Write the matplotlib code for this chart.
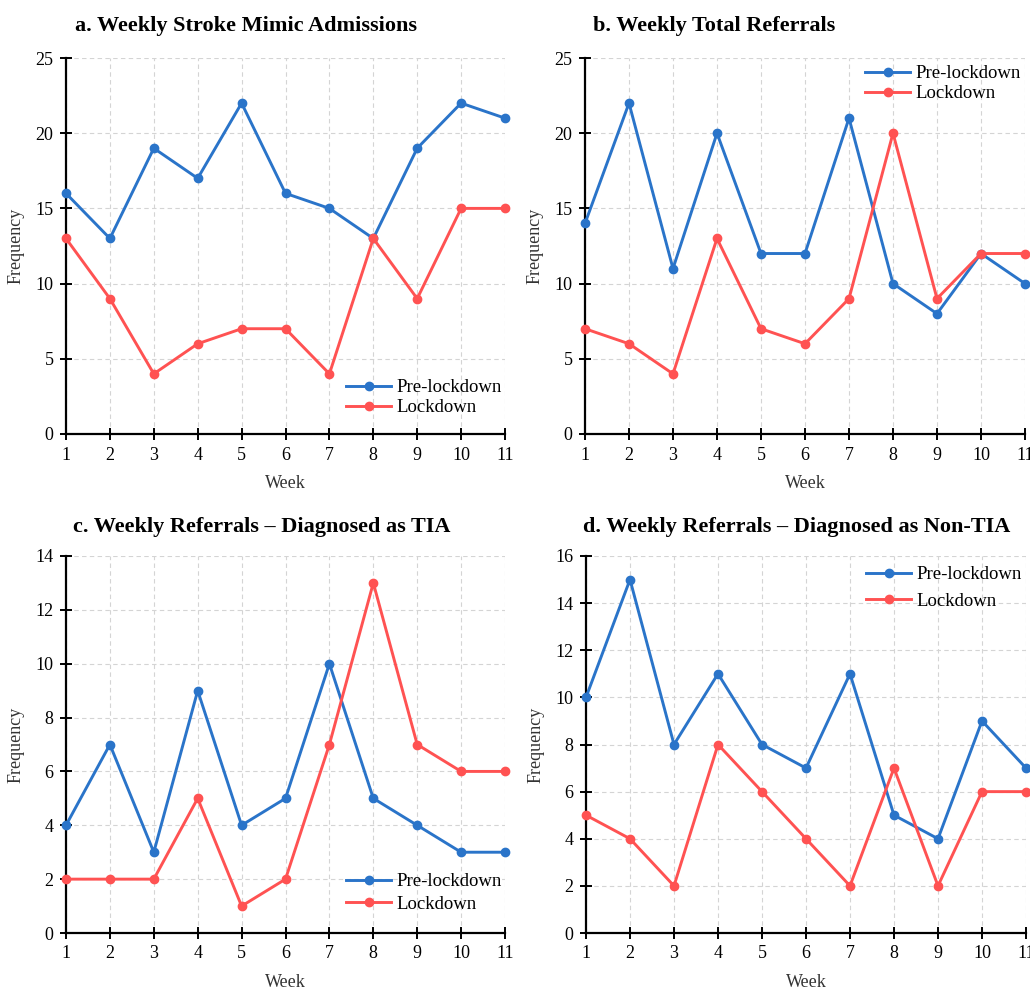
import numpy as np
import matplotlib.pyplot as plt

plt.rcParams['font.family'] = ['Liberation Serif', 'DejaVu Serif']

weeks = list(range(1, 12))

# a. stroke mimic admissions
mimic_pre = [16, 13, 19, 17, 22, 16, 15, 13, 19, 22, 21]
mimic_lock = [13, 9, 4, 6, 7, 7, 4, 13, 9, 15, 15]
# b. total referrals
total_pre = [14, 22, 11, 20, 12, 12, 21, 10, 8, 12, 10]
total_lock = [7, 6, 4, 13, 7, 6, 9, 20, 9, 12, 12]
# c. referrals diagnosed as TIA
tia_pre = [4, 7, 3, 9, 4, 5, 10, 5, 4, 3, 3]
tia_lock = [2, 2, 2, 5, 1, 2, 7, 13, 7, 6, 6]
# d. referrals diagnosed as non-TIA
non_pre = [10, 15, 8, 11, 8, 7, 11, 5, 4, 9, 7]
non_lock = [5, 4, 2, 8, 6, 4, 2, 7, 2, 6, 6]

titles = ["a. Weekly Stroke Mimic Admissions",
          "b. Weekly Total Referrals",
          "c. Weekly Referrals \u2013 Diagnosed as TIA",
          "d. Weekly Referrals \u2013 Diagnosed as Non-TIA"]

BLUE = '#2a74c9'
RED = '#ff5252'

W, H = 1030, 989
fig = plt.figure(figsize=(W / 100, H / 100), dpi=100)

def px_axes(x0, x1, ybot, ytop):
    return fig.add_axes([x0 / W, 1 - ybot / H, (x1 - x0) / W, (ybot - ytop) / H])

# axes, pre, lock, ymax, step, legend anchor (px), legend spacing, title pos (px)
panels = [
    (px_axes(66, 505, 434, 58), mimic_pre, mimic_lock, 25, 5, (346, 379), 0.15, (75, 26)),
    (px_axes(585, 1025, 434, 58), total_pre, total_lock, 25, 5, (865, 65), 0.15, (593, 26)),
    (px_axes(66, 505, 933, 556), tia_pre, tia_lock, 14, 2, (346, 873), 0.3, (73, 527)),
    (px_axes(586, 1026, 933, 556), non_pre, non_lock, 16, 2, (866, 566), 0.5, (583, 527)),
]

for i, (ax, pre, lock, ymax, step, lpos, lsp, tpos) in enumerate(panels):
    ax.plot(weeks, pre, color=BLUE, lw=2.1, marker='o', ms=6, label='Pre-lockdown', clip_on=False, zorder=3)
    ax.plot(weeks, lock, color=RED, lw=2.1, marker='o', ms=6, label='Lockdown', clip_on=False, zorder=3)
    ax.set_xlim(1, 11)
    ax.set_ylim(0, ymax)
    ax.set_xticks(weeks)
    ax.set_yticks(np.arange(0, ymax + 1, step))
    ax.grid(True, ls=(0, (4, 3)), color='#d4d4d4', lw=0.8)
    ax.set_axisbelow(True)
    for s in ['top', 'right']:
        ax.spines[s].set_visible(False)
    for s in ['left', 'bottom']:
        ax.spines[s].set_linewidth(1.6)
    ax.tick_params(direction='inout', length=8, width=1.4, labelsize=13, pad=5)
    ax.set_xlabel('Week', fontsize=13, color='#333333', labelpad=8)
    ax.set_ylabel('Frequency', fontsize=13, color='#333333', labelpad=8)
    ax.legend(loc='upper left', bbox_to_anchor=(lpos[0] / W, 1 - lpos[1] / H),
              bbox_transform=fig.transFigure, frameon=False, fontsize=13.5,
              handlelength=2.4, handletextpad=0.3, labelspacing=lsp, borderpad=0, borderaxespad=0)
    fig.text(tpos[0] / W, 1 - tpos[1] / H, titles[i], fontsize=16, fontweight='bold',
             ha='left', va='center')

fig.savefig('out.png', dpi=100)
